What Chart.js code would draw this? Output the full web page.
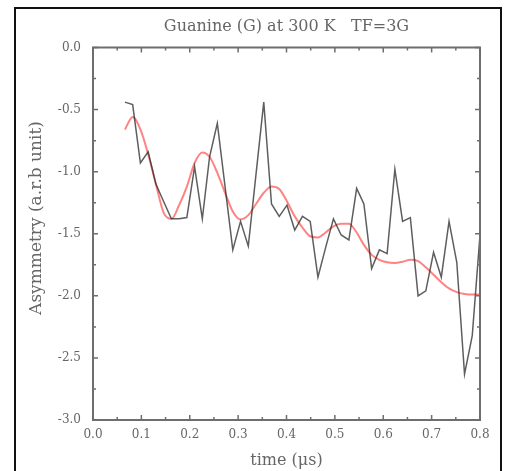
<!DOCTYPE html>
<html>
<head>
<meta charset="utf-8">
<script src="https://cdn.jsdelivr.net/npm/chart.js@4/dist/chart.umd.min.js"></script>
<style>
  body { margin: 0; background: #fff; }
  #wrap { position: relative; width: 505px; height: 471px; overflow: hidden; }
  #frame { position: absolute; left: 14px; top: 7px; width: 484px; height: 480px; border: 2px solid #111; }
  canvas { position: absolute; left: 0; top: 0; }
</style>
</head>
<body>
<div id="wrap">
  <div id="frame"></div>
  <canvas id="asymChart" width="505" height="471"></canvas>
</div>
<script>
// ----------------------- DATA ----------------------- //
// time in microseconds
const timeUs = [0.066, 0.082, 0.098, 0.114, 0.130, 0.146, 0.162, 0.178, 0.194, 0.210,
  0.226, 0.241, 0.257, 0.273, 0.289, 0.305, 0.321, 0.337, 0.353, 0.369,
  0.385, 0.401, 0.417, 0.433, 0.449, 0.465, 0.481, 0.497, 0.513, 0.529,
  0.545, 0.560, 0.576, 0.592, 0.608, 0.624, 0.640, 0.656, 0.672, 0.688,
  0.704, 0.720, 0.736, 0.752, 0.768, 0.784, 0.800];

// measured asymmetry (black)
const measured = [-0.44, -0.46, -0.93, -0.84, -1.10, -1.24, -1.38, -1.38, -1.37, -0.96,
  -1.38, -0.88, -0.61, -1.12, -1.63, -1.40, -1.60, -1.02, -0.44, -1.26,
  -1.36, -1.27, -1.47, -1.36, -1.40, -1.85, -1.61, -1.38, -1.51, -1.55,
  -1.135, -1.26, -1.78, -1.63, -1.66, -0.98, -1.40, -1.37, -2.00, -1.96,
  -1.65, -1.85, -1.40, -1.73, -2.63, -2.32, -1.51];

// fitted curve (red)
const fitted = [-0.66, -0.56, -0.66, -0.86, -1.10, -1.33, -1.38, -1.27, -1.12, -0.93,
  -0.845, -0.88, -1.01, -1.17, -1.32, -1.385, -1.35, -1.26, -1.17, -1.12,
  -1.14, -1.24, -1.36, -1.45, -1.52, -1.53, -1.49, -1.44, -1.42, -1.42,
  -1.49, -1.59, -1.67, -1.71, -1.73, -1.735, -1.725, -1.71, -1.72, -1.77,
  -1.83, -1.89, -1.94, -1.97, -1.985, -1.99, -1.99];

// ticks
const xMajorTicks = [0.0, 0.1, 0.2, 0.3, 0.4, 0.5, 0.6, 0.7, 0.8];
const yMajorTicks = [0.0, -0.5, -1.0, -1.5, -2.0, -2.5, -3.0];

const serif = "'DejaVu Serif', 'Liberation Serif', serif";
const textGrey = '#666';

// ----------------------- PLUGINS ----------------------- //

// frame around the plot with inward ticks on all four sides
const framePlugin = {
  id: 'frame',
  afterDatasetsDraw(chart) {
    const { ctx, chartArea: a, scales: { x, y } } = chart;
    ctx.save();
    ctx.strokeStyle = '#6e6e6e';
    ctx.lineWidth = 2;
    ctx.strokeRect(a.left, a.top, a.right - a.left, a.bottom - a.top);
    ctx.lineWidth = 1.5;
    ctx.beginPath();
    for (let i = 0; i < xMajorTicks.length; i++) {
      const px = x.getPixelForValue(xMajorTicks[i]);
      ctx.moveTo(px, a.bottom); ctx.lineTo(px, a.bottom - 5);
      ctx.moveTo(px, a.top); ctx.lineTo(px, a.top + 5);
      if (i < xMajorTicks.length - 1) {
        const mx = x.getPixelForValue(xMajorTicks[i] + 0.05);
        ctx.moveTo(mx, a.bottom); ctx.lineTo(mx, a.bottom - 3);
        ctx.moveTo(mx, a.top); ctx.lineTo(mx, a.top + 3);
      }
    }
    for (let i = 0; i < yMajorTicks.length; i++) {
      const py = y.getPixelForValue(yMajorTicks[i]);
      ctx.moveTo(a.left, py); ctx.lineTo(a.left + 5, py);
      ctx.moveTo(a.right, py); ctx.lineTo(a.right - 5, py);
      if (i < yMajorTicks.length - 1) {
        const my = y.getPixelForValue(yMajorTicks[i] - 0.25);
        ctx.moveTo(a.left, my); ctx.lineTo(a.left + 3, my);
        ctx.moveTo(a.right, my); ctx.lineTo(a.right - 3, my);
      }
    }
    ctx.stroke();

    // y axis title (sits a bit above the plot centre in the original)
    ctx.translate(37, 218);
    ctx.rotate(-Math.PI / 2);
    ctx.fillStyle = textGrey;
    ctx.font = '17px ' + serif;
    ctx.textAlign = 'center';
    ctx.textBaseline = 'middle';
    ctx.fillText('Asymmetry (a.r.b unit)', 0, 0);
    ctx.restore();
  }
};

// ----------------------- CHART ----------------------- //
const ctx = document.getElementById('asymChart').getContext('2d');
const asymChart = new Chart(ctx, {
  type: 'line',
  data: {
    datasets: [{
      label: 'data',
      data: timeUs.map((t, i) => ({ x: t, y: measured[i] })),
      borderColor: 'rgba(40,40,40,0.75)',
      borderWidth: 1.5,
      pointRadius: 0,
      tension: 0
    }, {
      label: 'fit',
      data: timeUs.map((t, i) => ({ x: t, y: fitted[i] })),
      borderColor: 'rgba(255,90,90,0.75)',
      borderWidth: 2,
      pointRadius: 0,
      cubicInterpolationMode: 'monotone'
    }]
  },
  options: {
    responsive: false,
    animation: false,
    layout: { padding: { right: 25 } },
    plugins: {
      legend: { display: false },
      tooltip: { enabled: false },
      title: {
        display: true,
        text: 'Guanine (G) at 300 K   TF=3G',
        fullSize: false,
        color: textGrey,
        font: { family: serif, size: 16, weight: 'normal' },
        padding: { top: 17, bottom: 11.3 }
      }
    },
    scales: {
      x: {
        type: 'linear',
        min: 0, max: 0.8,
        grid: { display: false, drawTicks: false },
        border: { display: false },
        ticks: {
          stepSize: 0.1,
          padding: 8,
          color: textGrey,
          font: { family: serif, size: 12 },
          callback: (v) => v.toFixed(1)
        },
        title: {
          display: true,
          text: 'time (μs)',
          color: textGrey,
          font: { family: serif, size: 16 },
          padding: { top: 0, bottom: 1 }
        },
        afterFit: (scale) => { scale.height = 51; }
      },
      y: {
        min: -3, max: 0,
        grid: { display: false, drawTicks: false },
        border: { display: false },
        ticks: {
          stepSize: 0.5,
          padding: 12,
          color: textGrey,
          font: { family: serif, size: 12 },
          callback: (v) => v.toFixed(1)
        },
        afterFit: (scale) => { scale.width = 93; }
      }
    }
  },
  plugins: [framePlugin]
});
</script>
</body>
</html>
